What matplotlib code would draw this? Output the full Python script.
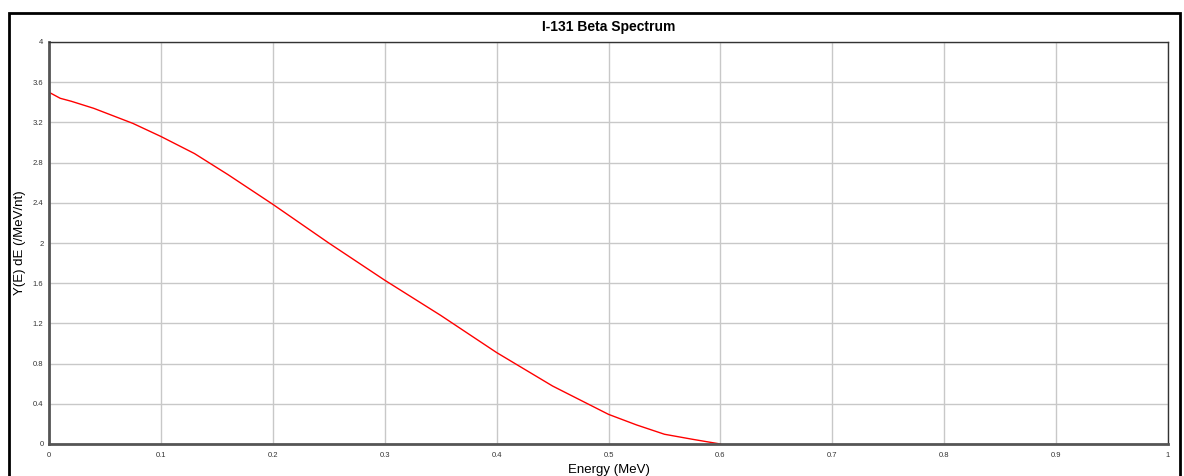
import matplotlib
matplotlib.use("Agg")
import matplotlib.pyplot as plt
from matplotlib.patches import Rectangle

# spectrum
energy = [0.0, 0.01, 0.02, 0.04, 0.075, 0.1, 0.13, 0.16, 0.2, 0.25, 0.3,
          0.35, 0.4, 0.45, 0.5, 0.525, 0.55, 0.575, 0.6]
yield_e = [3.50, 3.44, 3.41, 3.34, 3.19, 3.06, 2.89, 2.68, 2.385, 2.0, 1.63,
           1.28, 0.91, 0.577, 0.295, 0.19, 0.097, 0.047, 0.0]

x_ticks = [0, 0.1, 0.2, 0.3, 0.4, 0.5, 0.6, 0.7, 0.8, 0.9, 1]
x_tick_labels = ["0", "0.1", "0.2", "0.3", "0.4", "0.5", "0.6", "0.7", "0.8", "0.9", "1"]
y_ticks = [0, 0.4, 0.8, 1.2, 1.6, 2, 2.4, 2.8, 3.2, 3.6, 4]
y_tick_labels = ["0", "0.4", "0.8", "1.2", "1.6", "2", "2.4", "2.8", "3.2", "3.6", "4"]

plt.rcParams['font.family'] = ['Liberation Sans', 'DejaVu Sans']

W, H = 1184, 476
fig = plt.figure(figsize=(W / 100, H / 100), dpi=100)

# outer frame of the window
fig.patches.append(Rectangle((9 / W, -0.1), 1171 / W, 1.1 - 13 / H,
                             transform=fig.transFigure, fill=False,
                             edgecolor='black', linewidth=2))

ax = fig.add_axes([49 / W, 1 - 444 / H, (1168 - 49) / W, (444 - 42) / H])
ax.plot(energy, yield_e, color='#ff0000', linewidth=1)

ax.set_xlim(0, 1)
ax.set_ylim(0, 4)
ax.set_xticks(x_ticks)
ax.set_xticklabels(x_tick_labels)
ax.set_yticks(y_ticks)
ax.set_yticklabels(y_tick_labels)
ax.tick_params(labelsize=5.5, colors='#333333', length=0)
ax.tick_params(axis='x', pad=6)
ax.tick_params(axis='y', pad=4)
ax.grid(True, color='#c8c8c8', linewidth=1)
ax.set_axisbelow(True)

for side in ['top', 'right']:
  ax.spines[side].set_color('#333333')
  ax.spines[side].set_linewidth(1)
for side in ['left', 'bottom']:
  ax.spines[side].set_color('#555555')
  ax.spines[side].set_linewidth(2)

ax.set_title("I-131 Beta Spectrum", fontsize=10, fontweight='bold', pad=8)
ax.set_xlabel("Energy (MeV)", fontsize=9.5, labelpad=3)
ax.set_ylabel("Y(E) dE (/MeV/nt)", fontsize=9.5, va='center')
ax.yaxis.set_label_coords(-0.0255, 0.5)

fig.savefig("out.png", dpi=100)
